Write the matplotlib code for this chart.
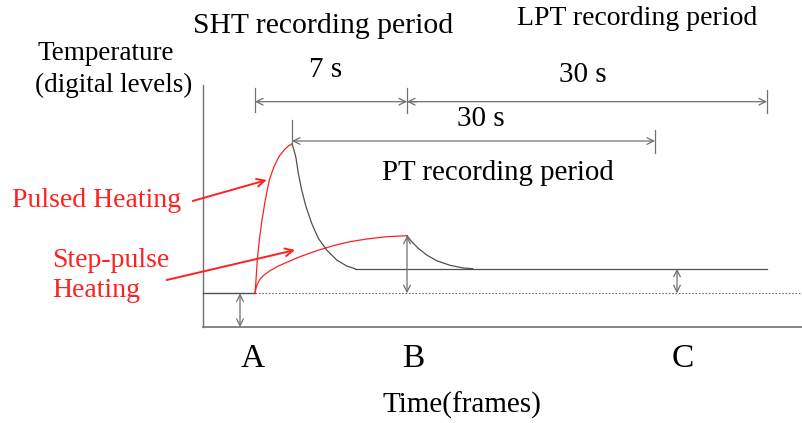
import matplotlib
matplotlib.use("Agg")
import matplotlib.pyplot as plt

plt.rcParams.update({"font.family": ["Liberation Serif", "DejaVu Serif"]})
RED, GREY, DARK = "#ff2020", "#707070", "#505050"

# schematic; x = frame position, y = level (pixel rows, top = 0)
pulse_rise_t = [255, 256, 257.3, 259.3, 262, 265.3, 269.3, 274, 279.3, 285, 289, 292]
pulse_rise_y = [293.3, 280, 260, 240, 220, 200, 180, 166.7, 156, 149, 145.5, 144]
pulse_decay_t = [292, 294, 296, 298.3, 301.7, 306, 311.7, 318.3, 326.7, 336.7, 346.7, 355]
pulse_decay_y = [144, 150, 158, 173.3, 190, 206.7, 223.3, 238.3, 250, 260, 266, 268.7]
step_rise_t = [255, 256, 257.3, 260, 264, 270, 278.3, 288.3, 300, 316.7, 333.3, 350,
               366.7, 386.7, 407]
step_rise_y = [293.3, 288.3, 284, 279.3, 275, 270.7, 266, 261.7, 256.7, 250.7, 245.7,
               241.7, 239, 236.7, 235.7]
step_decay_t = [407, 411.7, 418.3, 426.7, 436.7, 450, 463.3, 472.7]
step_decay_y = [235.7, 241.7, 248.3, 255, 260.7, 265.3, 268, 268.7]
plateau_t = [355, 767]
plateau_y = 268.7
baseline_y = 293.3
t_A, t_B, t_C, t_peak, t_end, t_pt_end = 255, 407, 677, 292, 767, 655
frame_left, frame_bottom = 203, 327

fig = plt.figure(figsize=(8.02, 4.23), dpi=100)
ax = fig.add_axes([0, 0, 1, 1])
ax.set_xlim(0, 802)
ax.set_ylim(423, 0)
ax.axis("off")

# frame
ax.plot([frame_left, frame_left], [85, frame_bottom], color=GREY, lw=1)
ax.plot([frame_left, 802], [frame_bottom, frame_bottom], color=GREY, lw=1.2)

# baseline
ax.plot([frame_left, t_A], [baseline_y, baseline_y], color=DARK, lw=1)
ax.plot([t_A, 802], [baseline_y, baseline_y], color=GREY, lw=0.8, ls=(0, (1.5, 1.5)))

# curves
ax.plot(pulse_rise_t, pulse_rise_y, color=RED, lw=0.9)
ax.plot(step_rise_t, step_rise_y, color=RED, lw=0.9)
ax.plot(pulse_decay_t, pulse_decay_y, color=DARK, lw=0.9)
ax.plot(step_decay_t, step_decay_y, color=DARK, lw=0.9)
ax.plot(plateau_t, [plateau_y, plateau_y], color=DARK, lw=0.9)

arrow = dict(arrowstyle="<->", color=GREY, lw=0.9, shrinkA=0, shrinkB=0,
             mutation_scale=12)
one_way = dict(arrowstyle="->", color=GREY, lw=0.9, shrinkA=0, shrinkB=0,
               mutation_scale=12)

# level arrows
ax.annotate("", xy=(240, baseline_y), xytext=(240, frame_bottom), arrowprops=arrow)
ax.annotate("", xy=(t_B, step_rise_y[-1]), xytext=(t_B, baseline_y), arrowprops=arrow)
ax.annotate("", xy=(t_C, plateau_y), xytext=(t_C, baseline_y), arrowprops=arrow)

# recording periods
dim_y, pt_y = 101.7, 141
for x, y0, y1 in [(t_A, 88, 112), (t_B, 88, 113), (t_end, 90, 113),
                  (t_peak, 120, 144), (t_pt_end, 130, 153)]:
    ax.plot([x, x], [y0, y1], color=GREY, lw=0.9)
ax.annotate("", xy=(t_A, dim_y), xytext=(t_B, dim_y), arrowprops=arrow)
ax.annotate("", xy=(t_end, dim_y), xytext=(t_B, dim_y), arrowprops=one_way)
ax.annotate("", xy=(t_B, dim_y), xytext=(t_B + 10, dim_y), arrowprops=one_way)
ax.annotate("", xy=(t_peak, pt_y), xytext=(t_pt_end, pt_y), arrowprops=arrow)

ax.text(193, 33, "SHT recording period", fontsize=21.3, ha="left", va="baseline")
ax.text(757, 25, "LPT recording period", fontsize=20, ha="right", va="baseline")
ax.text(326, 77, "7 s", fontsize=21, ha="center", va="baseline")
ax.text(583, 82, "30 s", fontsize=21, ha="center", va="baseline")
ax.text(481, 126, "30 s", fontsize=21, ha="center", va="baseline")
ax.text(382, 180, "PT recording period", fontsize=20.8, ha="left", va="baseline")
ax.text(37, 60, "Temperature", fontsize=19.5, ha="left", va="baseline")
ax.text(35, 92, "(digital levels)", fontsize=19.5, ha="left", va="baseline")
ax.text(12, 207, "Pulsed Heating", fontsize=20, color=RED, ha="left", va="baseline")
ax.text(52, 267, "Step-pulse", fontsize=20, color=RED, ha="left", va="baseline")
ax.text(52, 297, "Heating", fontsize=20, color=RED, ha="left", va="baseline")
for x, lab in [(252.5, "A"), (413, "B"), (683, "C")]:
    ax.text(x, 367, lab, fontsize=24, ha="center", va="baseline")
ax.text(462, 413, "Time(frames)", fontsize=21, ha="center", va="baseline")

red_arrow = dict(arrowstyle="->", color=RED, lw=1.4, shrinkA=0, shrinkB=0,
                 mutation_scale=14)
ax.annotate("", xy=(266.7, 180), xytext=(192.7, 201), arrowprops=red_arrow)
ax.annotate("", xy=(295, 250), xytext=(166.7, 280), arrowprops=red_arrow)

fig.savefig("out.png", dpi=100)
